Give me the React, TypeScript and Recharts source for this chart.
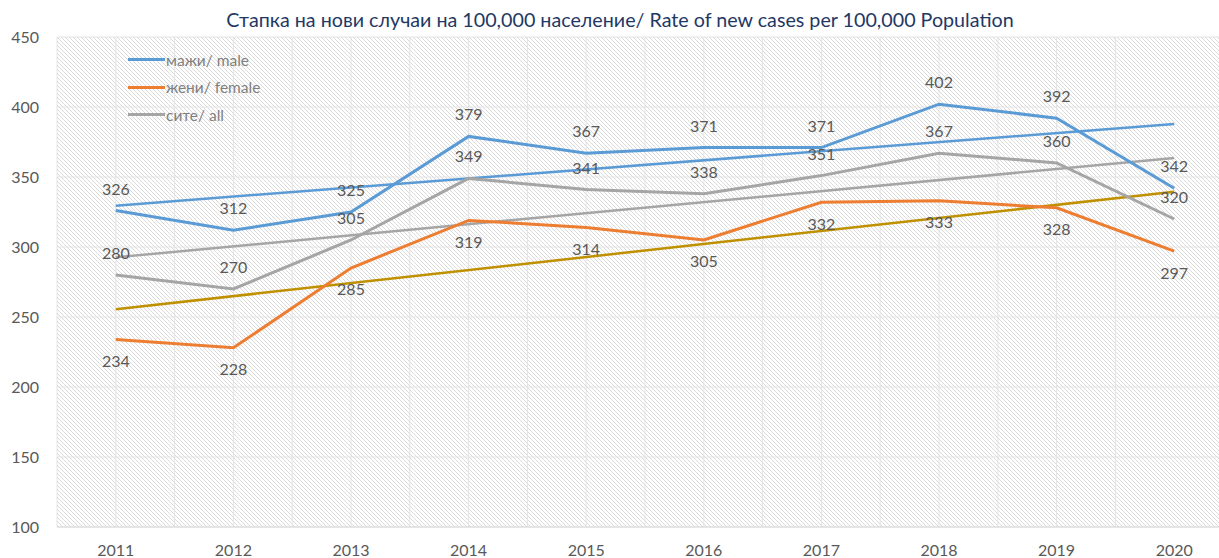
import { LineChart, Line, XAxis, YAxis, CartesianGrid } from 'recharts';

// години / years
const years = [2011, 2012, 2013, 2014, 2015, 2016, 2017, 2018, 2019, 2020];
const male = [326, 312, 325, 379, 367, 371, 371, 402, 392, 342];
const female = [234, 228, 285, 319, 314, 305, 332, 333, 328, 297];
const all = [280, 270, 305, 349, 341, 338, 351, 367, 360, 320];

// linear trend lines, start (2011) and end (2020) values
const trendYears = [2011, 2020];
const maleTrend = [329.5, 387.9];
const femaleTrend = [255.6, 339.4];
const allTrend = [292.6, 363.6];

const yTicks = [100, 150, 200, 250, 300, 350, 400, 450];

const data = years.map((year, i) => ({ year, male: male[i], female: female[i], all: all[i] }));
const trend = (vals: number[]) => trendYears.map((year, i) => ({ year, v: vals[i] }));

const gridX = years.flatMap((y) => [y - 0.5, y]).concat([2020.5]);

const FONT = 'Lato, "Open Sans", sans-serif';
const BLUE = '#5B9BD5';
const ORANGE = '#ED7D31';
const GRAY = '#A5A5A5';
const GOLD = '#BF9000';
const TEXT = '#595959';

const legendItems = [
  { name: 'мажи/ male', color: BLUE },
  { name: 'жени/ female', color: ORANGE },
  { name: 'сите/ all', color: GRAY },
];

const LegendBox = () => (
  <div style={{ position: 'absolute', left: 128, top: 46, fontFamily: FONT, fontSize: 15.5, color: '#7f7f7f' }}>
    {legendItems.map((it) => (
      <div key={it.name} style={{ display: 'flex', alignItems: 'center', height: 27.5 }}>
        <span style={{ display: 'inline-block', width: 37, height: 3, background: it.color }} />
        <span style={{ marginLeft: 1 }}>{it.name}</span>
      </div>
    ))}
  </div>
);

export default function App() {
  const labelTop = { position: 'top' as const, offset: 16, fill: TEXT, fontSize: 16, fontFamily: FONT };
  const labelBottom = { position: 'bottom' as const, offset: 16, fill: TEXT, fontSize: 16, fontFamily: FONT };

  return (
    <div style={{ position: 'absolute', left: 0, top: 0, width: 1219, height: 558, overflow: 'hidden', background: '#fff' }}>
      <div
        style={{
          position: 'absolute',
          top: 8,
          left: 0,
          width: 1240,
          textAlign: 'center',
          fontFamily: FONT,
          fontSize: 19.7,
          color: '#1F3864',
        }}
      >
        Стапка на нови случаи на 100,000 население/ Rate of new cases per 100,000 Population
      </div>
      <LineChart width={1233} height={558} data={data} margin={{ top: 37, right: 0, bottom: 0, left: 0 }}>
        <defs>
          <pattern id="hatch" width="4" height="4" patternUnits="userSpaceOnUse">
            <path d="M-1,-1 L5,5" stroke="#dadada" strokeWidth={1} />
          </pattern>
        </defs>
        <CartesianGrid
          stroke="#e4e4e4"
          fill="url(#hatch)"
          verticalValues={gridX}
          horizontalValues={yTicks}
        />
        <XAxis
          dataKey="year"
          type="number"
          domain={[2010.5, 2020.5]}
          ticks={years}
          tick={{ fill: TEXT, fontSize: 16, fontFamily: FONT }}
          tickLine={false}
          axisLine={{ stroke: '#d9d9d9' }}
          tickMargin={12}
          height={31}
          allowDataOverflow
        />
        <YAxis
          domain={[100, 450]}
          ticks={yTicks}
          tick={{ fill: TEXT, fontSize: 16, fontFamily: FONT }}
          tickLine={false}
          axisLine={false}
          width={57}
          tickMargin={12}
        />
        <Line data={trend(maleTrend)} dataKey="v" stroke={BLUE} strokeWidth={2.5} dot={false} legendType="none" isAnimationActive={false} />
        <Line data={trend(femaleTrend)} dataKey="v" stroke={GOLD} strokeWidth={2.5} dot={false} legendType="none" isAnimationActive={false} />
        <Line data={trend(allTrend)} dataKey="v" stroke={GRAY} strokeWidth={2.5} dot={false} legendType="none" isAnimationActive={false} />
        <Line dataKey="male" name="мажи/ male" stroke={BLUE} strokeWidth={3} dot={false} label={labelTop} isAnimationActive={false} />
        <Line dataKey="female" name="жени/ female" stroke={ORANGE} strokeWidth={3} dot={false} label={labelBottom} isAnimationActive={false} />
        <Line dataKey="all" name="сите/ all" stroke={GRAY} strokeWidth={3} dot={false} label={labelTop} isAnimationActive={false} />
      </LineChart>
      <LegendBox />
    </div>
  );
}
